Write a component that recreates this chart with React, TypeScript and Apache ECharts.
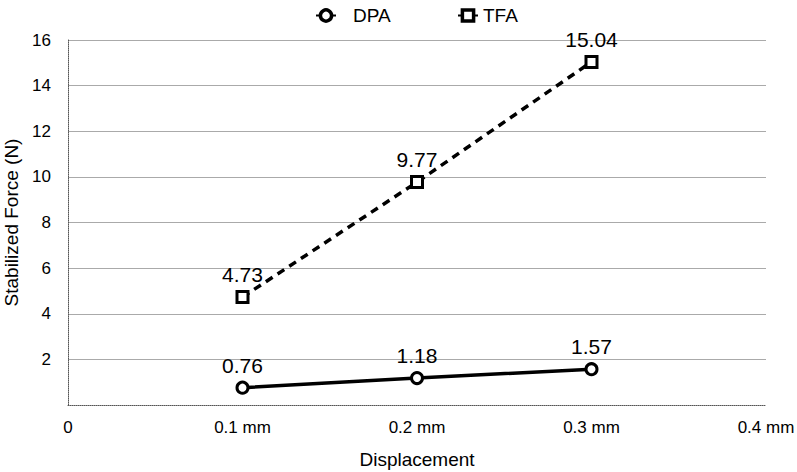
import React, { useEffect, useRef } from "react";
import * as echarts from "echarts";

const xValues = [0.1, 0.2, 0.3];
const dpaValues = [0.76, 1.18, 1.57];
const tfaValues = [4.73, 9.77, 15.04];
const xTickLabels: Record<string, string> = { "0": "0", "0.1": "0.1 mm", "0.2": "0.2 mm", "0.3": "0.3 mm", "0.4": "0.4 mm" };

const FONT = "Liberation Sans, Arial, Helvetica, sans-serif";

export default function App() {
  const ref = useRef<HTMLDivElement>(null);
  useEffect(() => {
    document.body.style.margin = "0";
    if (!ref.current) return;
    const chart = echarts.init(ref.current, undefined, { renderer: "svg" });
    const label = {
      show: true,
      position: "top" as const,
      distance: 5,
      fontSize: 21,
      color: "#000",
      fontFamily: FONT,
    };
    const legendBase = {
      top: 1,
      itemWidth: 20,
      itemHeight: 14,
      itemStyle: { borderWidth: 3.5 },
      textStyle: { fontSize: 19, color: "#000", fontFamily: FONT },
    };
    chart.setOption({
      animation: false,
      textStyle: { fontFamily: FONT },
      legend: [
        { ...legendBase, left: 310, data: ["DPA"], textStyle: { ...legendBase.textStyle, padding: [0, 0, 0, 12] } },
        { ...legendBase, left: 452, data: ["TFA"], textStyle: { ...legendBase.textStyle, padding: [0, 0, 0, 0] } },
      ],
      grid: { left: 68, right: 31, top: 40, bottom: 67, containLabel: false, outerBoundsMode: "none" },
      xAxis: {
        type: "value",
        min: 0,
        max: 0.4,
        interval: 0.1,
        name: "Displacement",
        nameLocation: "middle",
        nameGap: 45,
        nameTextStyle: { fontSize: 19, color: "#000", fontFamily: FONT },
        axisLine: { show: true, lineStyle: { color: "#555", type: "dotted", width: 1 } },
        axisTick: { show: false },
        splitLine: { show: false },
        axisLabel: {
          fontSize: 17,
          color: "#000",
          margin: 14,
          fontFamily: FONT,
          formatter: (v: number) => xTickLabels[String(Math.round(v * 10) / 10)] ?? "",
        },
      },
      yAxis: {
        type: "value",
        min: 0,
        max: 16,
        interval: 2,
        name: "Stabilized Force (N)",
        nameLocation: "middle",
        nameGap: 44,
        nameTextStyle: { fontSize: 19, color: "#000", fontFamily: FONT },
        axisLine: { show: true, lineStyle: { color: "#555", type: "dotted", width: 1 } },
        axisTick: { show: false },
        splitLine: { show: true, showMinLine: false, lineStyle: { color: "#aaa", width: 1 } },
        axisLabel: {
          fontSize: 17,
          color: "#000",
          margin: 17,
          fontFamily: FONT,
          formatter: (v: number) => (v === 0 ? "" : String(v)),
        },
      },
      series: [
        {
          name: "DPA",
          type: "line",
          data: xValues.map((x, i) => [x, dpaValues[i]]),
          symbol: "circle",
          symbolSize: 11,
          lineStyle: { color: "#000", width: 3.5 },
          itemStyle: { color: "#fff", borderColor: "#000", borderWidth: 3 },
          label,
        },
        {
          name: "TFA",
          type: "line",
          data: xValues.map((x, i) => [x, tfaValues[i]]),
          symbol: "rect",
          symbolSize: 11,
          lineStyle: { color: "#000", width: 3.5, type: [8, 6] },
          itemStyle: { color: "#fff", borderColor: "#000", borderWidth: 3 },
          label,
        },
      ],
    });
    return () => chart.dispose();
  }, []);
  return <div ref={ref} style={{ width: 797, height: 472 }} />;
}
